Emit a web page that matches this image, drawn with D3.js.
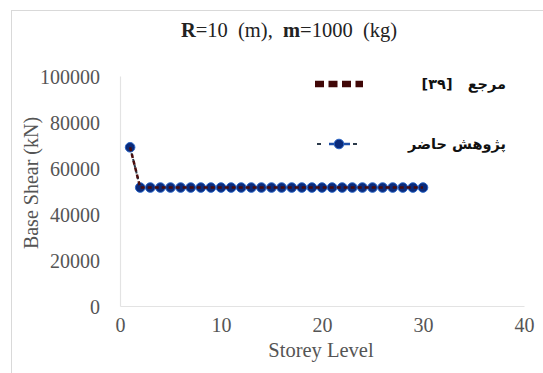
<!DOCTYPE html>
<html><head><meta charset="utf-8">
<script src="https://cdn.jsdelivr.net/npm/d3@7"></script>
<style>body{margin:0;background:#fff}svg{display:block}</style>
</head><body>
<script>
const storeys = d3.range(1, 31);
const refValues = [69000].concat(d3.range(29).map(() => 51500));
const presentValues = [69000].concat(d3.range(29).map(() => 51500));
const xTicks = [0, 10, 20, 30, 40];
const yTicks = [0, 20000, 40000, 60000, 80000, 100000];
const seriesNames = ["مرجع   [۳۹]", "پژوهش حاضر"];

const W = 543, H = 373;
const svg = d3.select("body").append("svg").attr("width", W).attr("height", H);
svg.append("rect").attr("x", 11.5).attr("y", 10.5).attr("width", 700).attr("height", 600)
  .attr("fill", "#fff").attr("stroke", "#d9d9d9");

const x = d3.scaleLinear().domain([0, 40]).range([120, 524]);
const y = d3.scaleLinear().domain([0, 100000]).range([306, 76]);
const serif = "'Liberation Serif','Times New Roman',serif";

// title
const t = svg.append("text").attr("x", 289).attr("y", 37).attr("text-anchor", "middle")
  .attr("font-family", serif).attr("font-size", 20.5).attr("fill", "#222")
  .attr("xml:space", "preserve").style("white-space", "pre");
t.append("tspan").attr("font-weight", "bold").text("R");
t.append("tspan").text("=10  (m),  ");
t.append("tspan").attr("font-weight", "bold").text("m");
t.append("tspan").text("=1000  (kg)");

// axes
const xAxis = svg.append("g").attr("transform", `translate(0,${y(0)})`)
  .call(d3.axisBottom(x).tickValues(xTicks).tickSize(0).tickPadding(15).tickFormat(d3.format("d")));
const yAxis = svg.append("g").attr("transform", `translate(${x(0)},0)`)
  .call(d3.axisLeft(y).tickValues(yTicks).tickSize(0).tickPadding(20).tickFormat(d3.format("d")));
[xAxis, yAxis].forEach(g => {
  g.select(".domain").attr("stroke", "#e3e3e3").attr("stroke-width", 1.2);
  g.selectAll("text").attr("font-family", serif).attr("font-size", 20).attr("fill", "#555");
});
yAxis.selectAll("text").attr("dy", "0.35em");
xAxis.selectAll("text").attr("dy", "0.55em");

svg.append("text").attr("x", 321).attr("y", 357).attr("text-anchor", "middle")
  .attr("font-family", serif).attr("font-size", 20.5).attr("fill", "#555").text("Storey Level");
svg.append("text").attr("transform", "translate(38,183) rotate(-90)").attr("text-anchor", "middle")
  .attr("font-family", serif).attr("font-size", 20).attr("fill", "#555").text("Base Shear (kN)");

const line = d3.line().x((d, i) => x(storeys[i])).y(d => y(d));

// present study
svg.append("path").datum(presentValues).attr("d", line).attr("fill", "none")
  .attr("stroke", "#2b3a4a").attr("stroke-width", 2).attr("stroke-dasharray", "3,3");
svg.selectAll("circle.p").data(presentValues).join("circle").attr("class", "p")
  .attr("cx", (d, i) => x(storeys[i])).attr("cy", d => y(d)).attr("r", 4.8)
  .attr("fill", "#0a2a7a").attr("stroke", "#2a66c8").attr("stroke-width", 1);
// reference [39]
svg.append("path").datum(refValues).attr("d", line).attr("fill", "none")
  .attr("stroke", "#4a0d0d").attr("stroke-width", 2.5).attr("stroke-dasharray", "4,3");

// legend
const lg1 = 84, lg2 = 144;
svg.append("line").attr("x1", 315).attr("x2", 363).attr("y1", lg1).attr("y2", lg1)
  .attr("stroke", "#400707").attr("stroke-width", 6.5).attr("stroke-dasharray", "9,4.5");
svg.append("line").attr("x1", 317).attr("x2", 362).attr("y1", lg2).attr("y2", lg2)
  .attr("stroke", "#2b3a4a").attr("stroke-width", 2).attr("stroke-dasharray", "4,8");
svg.append("line").attr("x1", 329).attr("x2", 350).attr("y1", lg2).attr("y2", lg2)
  .attr("stroke", "#1d4fa8").attr("stroke-width", 2.5);
svg.append("circle").attr("cx", 339).attr("cy", lg2).attr("r", 4.8)
  .attr("fill", "#0a2a7a").attr("stroke", "#2a66c8");
[lg1, lg2].forEach((yy, i) => {
  svg.append("text").attr("x", 506).attr("y", yy + 5).attr("direction", "rtl")
    .attr("text-anchor", "start").attr("font-family", "'DejaVu Sans',sans-serif")
    .attr("font-weight", "bold").attr("font-size", 14.5).attr("fill", "#111")
    .style("white-space", "pre").text(seriesNames[i]);
});
</script>
</body></html>
